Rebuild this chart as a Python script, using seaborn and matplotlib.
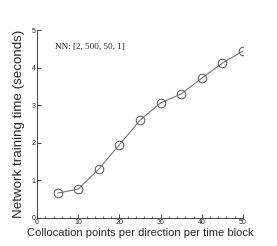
import numpy as np
import pandas as pd
import matplotlib
matplotlib.use('Agg')
import matplotlib.pyplot as plt
from matplotlib.ticker import MultipleLocator
import seaborn as sns

# collocation points per direction per time block
points = [5, 10, 15, 20, 25, 30, 35, 40, 45, 50]
# network training time (seconds)
train_time = [0.66, 0.77, 1.30, 1.95, 2.60, 3.06, 3.30, 3.72, 4.12, 4.44]
x_ticks = [0, 10, 20, 30, 40, 50]
y_ticks = [0, 1, 2, 3, 4, 5]

sns.set_style('ticks')
plt.rcParams['font.family'] = ['Liberation Sans', 'DejaVu Sans']

df = pd.DataFrame({'points': points, 'time': train_time})

fig = plt.figure(figsize=(2.77, 2.46), dpi=100)
ax = fig.add_axes([0.134, 0.114, 0.743, 0.764])

sns.lineplot(data=df, x='points', y='time', ax=ax, color='#666666', linewidth=0.7,
             marker='o', markersize=6.2, markerfacecolor='none',
             markeredgecolor='#555555', markeredgewidth=0.7)

ax.set_xlim(0, 50)
ax.set_ylim(0, 5)
ax.set_xticks(x_ticks)
ax.set_yticks(y_ticks)
ax.xaxis.set_minor_locator(MultipleLocator(2))
ax.tick_params(direction='in', labelsize=5, length=3, width=0.6, pad=1)
ax.tick_params(which='minor', direction='in', length=1.5, width=0.5)
for s in ['top', 'right']:
    ax.spines[s].set_visible(False)
for s in ['left', 'bottom']:
    ax.spines[s].set_linewidth(0.6)

ax.set_xlabel('Collocation points per direction per time block', fontsize=8, labelpad=1)
ax.set_ylabel('Network training time (seconds)', fontsize=9.6, labelpad=5)

ax.text(0.085, 0.9, 'NN: [2, 500, 50, 1]', transform=ax.transAxes,
        fontsize=6.6, family='Liberation Serif')

fig.savefig('out.png', dpi=100)
